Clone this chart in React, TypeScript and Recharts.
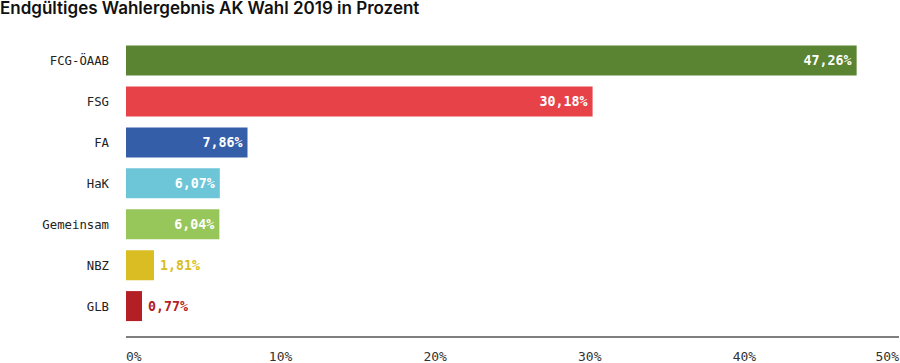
import { Bar, BarChart, Cell, LabelList, XAxis, YAxis } from "recharts";

const parties = ["FCG-ÖAAB", "FSG", "FA", "HaK", "Gemeinsam", "NBZ", "GLB"];
const shares = [47.26, 30.18, 7.86, 6.07, 6.04, 1.81, 0.77];
const partyColors = ["#5a8431", "#e84249", "#355ea9", "#6cc6d8", "#97c65a", "#d9bd22", "#b31f24"];
const xTicks = [0, 10, 20, 30, 40, 50];

const data = parties.map((name, i) => ({ name, value: shares[i], color: partyColors[i] }));

const mono = "'DejaVu Sans Mono', 'Liberation Mono', monospace";
const fmt = (v: number) => v.toFixed(2).replace(".", ",") + "%";

function XTick({ x, y, payload, index }: any) {
  const anchor = index === 0 ? "start" : index === xTicks.length - 1 ? "end" : "middle";
  return (
    <text x={x} y={y + 11} dy="0.35em" textAnchor={anchor} fontFamily={mono} fontSize={13} fill="#333">
      {payload.value}%
    </text>
  );
}

function YTick({ x, y, payload }: any) {
  return (
    <text x={x - 9} y={y} dy="0.35em" textAnchor="end" fontFamily={mono} fontSize={12.3} fill="#222">
      {payload.value}
    </text>
  );
}

function ValueLabel({ x, y, width, height, value, index }: any) {
  const inside = value > 5;
  return (
    <text
      x={inside ? x + width - 5 : x + width + 6}
      y={y + height / 2}
      dy="0.35em"
      textAnchor={inside ? "end" : "start"}
      fontFamily={mono}
      fontWeight="bold"
      fontSize={13.3}
      fill={inside ? "#ffffff" : partyColors[index]}
    >
      {fmt(value)}
    </text>
  );
}

export default function App() {
  return (
    <div style={{ position: "absolute", left: 0, top: 0, width: 900, height: 363, background: "#fff" }}>
      <div
        style={{
          position: "absolute",
          left: 0,
          top: 0,
          fontFamily: "Inter, sans-serif",
          fontWeight: 600,
          fontSize: 17,
          lineHeight: "17px",
          color: "#111",
          whiteSpace: "nowrap",
        }}
      >
        Endgültiges Wahlergebnis AK Wahl 2019 in Prozent
      </div>
      <BarChart
        width={900}
        height={363}
        data={data}
        layout="vertical"
        margin={{ top: 40.6, right: 1, bottom: 0, left: 0 }}
        barSize={30}
      >
        <XAxis
          type="number"
          domain={[0, 50]}
          ticks={xTicks}
          tick={<XTick />}
          tickLine={false}
          axisLine={{ stroke: "#555", strokeWidth: 1.5 }}
          height={26}
          interval={0}
        />
        <YAxis
          type="category"
          dataKey="name"
          width={126}
          tick={<YTick />}
          tickLine={false}
          axisLine={false}
          padding={{ top: 0, bottom: 10 }}
          interval={0}
        />
        <Bar dataKey="value" minPointSize={16} isAnimationActive={false}>
          {data.map((d) => (
            <Cell key={d.name} fill={d.color} />
          ))}
          <LabelList dataKey="value" content={<ValueLabel />} />
        </Bar>
      </BarChart>
    </div>
  );
}
